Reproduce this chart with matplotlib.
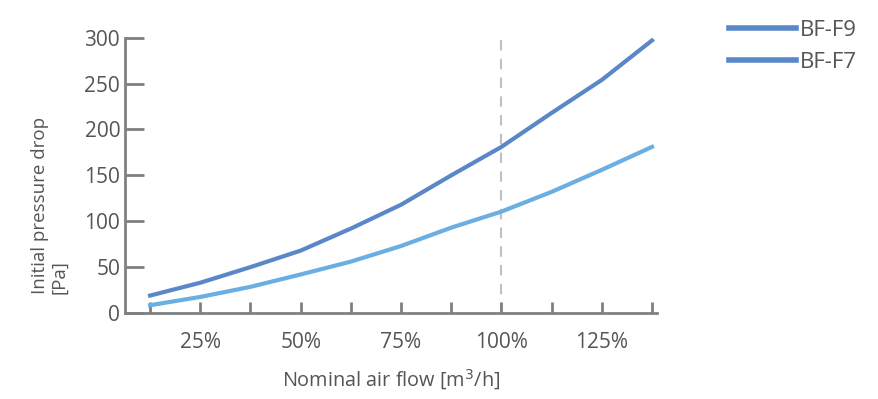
import matplotlib.pyplot as plt
from matplotlib.lines import Line2D

plt.rcParams['font.family'] = ['Open Sans', 'DejaVu Sans']

flow = [12.5, 25, 37.5, 50, 62.5, 75, 87.5, 100, 112.5, 125, 137.5]
bf_f9 = [19, 33, 50, 68, 92, 118, 150, 181, 218, 254, 297]
bf_f7 = [8.5, 17.5, 28.5, 42, 56, 73, 93, 110.5, 132, 156, 181]
xticks = [25, 50, 75, 100, 125]
xtick_labels = ['25%', '50%', '75%', '100%', '125%']
minor_ticks = [12.5, 37.5, 62.5, 87.5, 112.5, 137.5]
yticks = [0, 50, 100, 150, 200, 250, 300]

c_f9 = '#5a87c8'
c_f7 = '#6aaee2'
grey = '#808080'
txt = '#555555'

W, H = 879, 399
fig = plt.figure(figsize=(W / 100, H / 100), dpi=100)
ax = fig.add_axes([125 / W, 1 - 313 / H, (657 - 125) / W, (313 - 37.7) / H])

ax.axvline(100, color='#c0c0c0', lw=1.5, ls=(0, (5, 4)), zorder=1)
ax.plot(flow, bf_f9, color=c_f9, lw=3, zorder=3, solid_joinstyle='round')
ax.plot(flow, bf_f7, color=c_f7, lw=3, zorder=3, solid_joinstyle='round')

ax.set_xlim(6.25, 138.75)
ax.set_ylim(0, 300)
ax.set_xticks(xticks)
ax.set_xticklabels(xtick_labels)
ax.set_xticks(minor_ticks, minor=True)
ax.set_yticks(yticks)

for s in ['top', 'right']:
    ax.spines[s].set_visible(False)
for s in ['left', 'bottom']:
    ax.spines[s].set_color(grey)
    ax.spines[s].set_linewidth(2)

ax.tick_params(axis='y', direction='in', length=14, width=2, color=grey,
               labelsize=15, labelcolor=txt, pad=3.5)
ax.tick_params(axis='x', which='both', direction='in', length=8, width=2,
               color=grey, labelsize=15, labelcolor=txt, pad=14)

ax.set_xlabel('Nominal air flow [m$^3$/h]', fontsize=14.3, color=txt, labelpad=10)
fig.text(50 / W, 1 - 294 / H, 'Initial pressure drop\n[Pa]', fontsize=13.5,
         color=txt, rotation=90, ha='center', va='bottom',
         multialignment='left', linespacing=1.1)

handles = [Line2D([], [], color=c_f9, lw=4), Line2D([], [], color=c_f9, lw=4)]
fig.legend(handles, ['BF-F9', 'BF-F7'], loc='upper left',
           bbox_to_anchor=(0.8065, 1.0), frameon=False, fontsize=16,
           labelcolor=txt, handlelength=3.0, handletextpad=0.2,
           labelspacing=0.5)

fig.savefig('out.png', dpi=100)
